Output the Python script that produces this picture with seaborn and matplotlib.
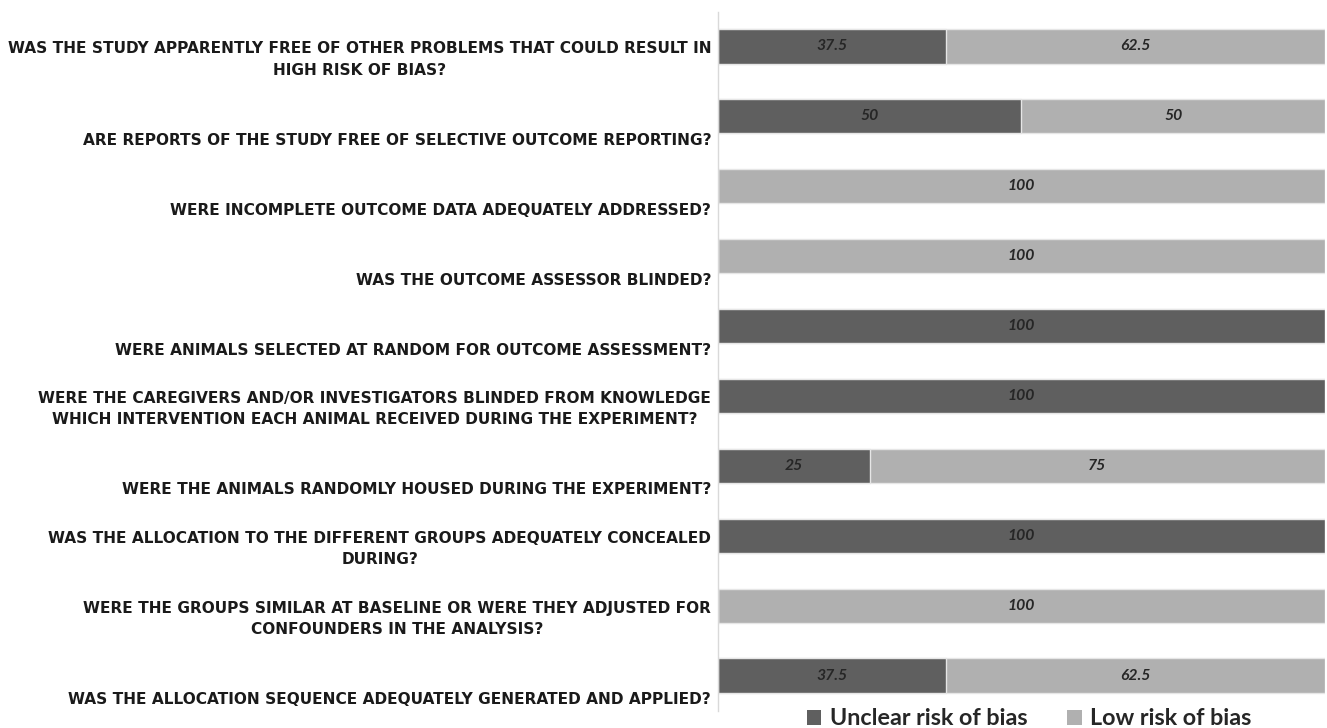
import matplotlib
matplotlib.use("Agg")
import matplotlib.pyplot as plt
import matplotlib.transforms as mtransforms
from matplotlib.patches import Patch
import seaborn as sns
import pandas as pd

# Risk-of-bias domains, listed top to bottom
questions = [
    "WAS THE STUDY APPARENTLY FREE OF OTHER PROBLEMS THAT COULD RESULT IN\nHIGH RISK OF BIAS?",
    "ARE REPORTS OF THE STUDY FREE OF SELECTIVE OUTCOME REPORTING?",
    "WERE INCOMPLETE OUTCOME DATA ADEQUATELY ADDRESSED?",
    "WAS THE OUTCOME ASSESSOR BLINDED?",
    "WERE ANIMALS SELECTED AT RANDOM FOR OUTCOME ASSESSMENT?",
    "WERE THE CAREGIVERS AND/OR INVESTIGATORS BLINDED FROM KNOWLEDGE\nWHICH INTERVENTION EACH ANIMAL RECEIVED DURING THE EXPERIMENT?",
    "WERE THE ANIMALS RANDOMLY HOUSED DURING THE EXPERIMENT?",
    "WAS THE ALLOCATION TO THE DIFFERENT GROUPS ADEQUATELY CONCEALED\nDURING?",
    "WERE THE GROUPS SIMILAR AT BASELINE OR WERE THEY ADJUSTED FOR\nCONFOUNDERS IN THE ANALYSIS?",
    "WAS THE ALLOCATION SEQUENCE ADEQUATELY GENERATED AND APPLIED?",
]
unclear = [37.5, 50, 0, 0, 100, 100, 25, 100, 0, 37.5]
low = [62.5, 50, 100, 100, 0, 0, 75, 0, 100, 62.5]
series_names = ["Unclear risk of bias", "Low risk of bias"]

dark = "#5f5f5f"
light = "#b0b0b0"

df = pd.DataFrame({"q": questions, "unclear": unclear, "low": low})
df["total"] = df["unclear"] + df["low"]

sns.set_style("white")
plt.rcParams["font.family"] = ["Lato", "DejaVu Sans"]

fig = plt.figure(figsize=(13.27, 7.28), dpi=100)
ax = fig.add_axes([0.541, 0.024, 0.4575, 0.9602])

# stacked bars: full length in light grey, unclear share drawn over it
sns.barplot(data=df, x="total", y="q", order=questions, color=light,
            width=0.49, edgecolor="#e6e6e6", linewidth=1, saturation=1, ax=ax)
sns.barplot(data=df, x="unclear", y="q", order=questions, color=dark,
            width=0.49, edgecolor="#e6e6e6", linewidth=1, saturation=1, ax=ax)

ax.set_xlim(0, 100)
ax.set_ylim(len(questions) - 0.5, -0.5)
ax.set_xlabel("")
ax.set_ylabel("")
ax.set_xticks([])
ax.set_yticks(range(len(questions)))
ax.set_yticklabels([])
ax.tick_params(axis="y", length=0)
for side in ["top", "right", "bottom"]:
    ax.spines[side].set_visible(False)
ax.spines["left"].set_color("#d9d9d9")
ax.spines["left"].set_linewidth(1)

# segment values
for i, (u, l) in enumerate(zip(unclear, low)):
    if u > 0:
        ax.text(u / 2, i, f"{u:g}", ha="center", va="center", fontsize=11.3,
                fontstyle="italic", fontweight="bold", color="#262626")
    if l > 0:
        ax.text(u + l / 2, i, f"{l:g}", ha="center", va="center", fontsize=11.3,
                fontstyle="italic", fontweight="bold", color="#262626")

# category labels sit below each bar's centre line
trans = mtransforms.blended_transform_factory(ax.transAxes, ax.transData)
for i, q in enumerate(questions):
    ax.text(-0.011, i + 0.45, q, transform=trans, ha="right", va="bottom",
            multialignment="center", fontsize=11.05, fontweight="bold",
            family="DejaVu Sans", color="#1a1a1a", linespacing=1.55)

handles = [Patch(facecolor=dark, edgecolor="none"),
           Patch(facecolor=light, edgecolor="none")]
fig.legend(handles, series_names, loc="center", bbox_to_anchor=(0.7755, 0.0125),
           ncol=2, frameon=False,
           prop={"weight": "bold", "size": 16.8},
           handlelength=0.62, handleheight=0.62, handletextpad=0.35,
           columnspacing=1.72, borderpad=0)

fig.savefig("out.png", dpi=100)
